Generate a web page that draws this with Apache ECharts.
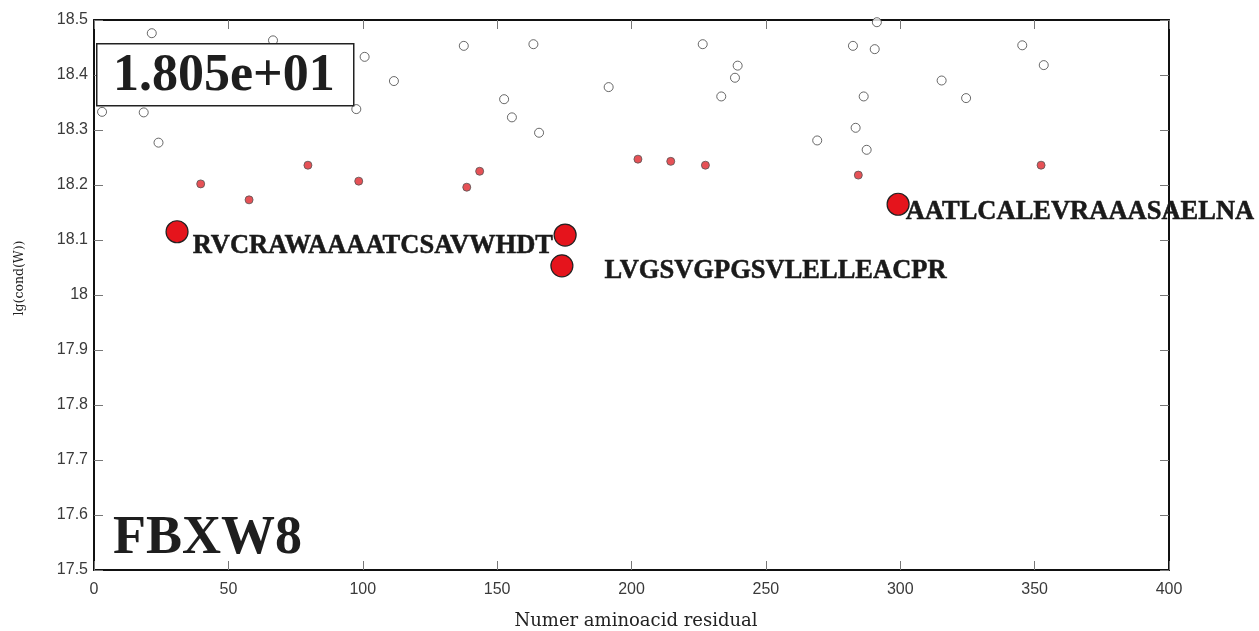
<!DOCTYPE html>
<html><head><meta charset="utf-8">
<script src="https://cdn.jsdelivr.net/npm/echarts@6/dist/echarts.min.js"></script>
<style>html,body{margin:0;padding:0;background:#fff}#c{width:1259px;height:631px}</style>
</head><body><div id="c"></div>
<script>
// Open circles (other residues)
const openX = [3, 21.5, 18.5, 24, 66.6, 97.6, 100.7, 111.6, 137.6, 163.5, 152.6, 155.5, 165.6, 191.5, 226.5, 239.5, 238.5, 233.4, 269.1, 291.3, 282.4, 290.5, 286.4, 283.4, 287.5, 315.4, 324.5, 345.4, 353.4];
const openY = [18.333, 18.476, 18.332, 18.277, 18.463, 18.338, 18.433, 18.389, 18.453, 18.456, 18.356, 18.323, 18.295, 18.378, 18.456, 18.417, 18.395, 18.361, 18.281, 18.496, 18.453, 18.447, 18.361, 18.304, 18.264, 18.390, 18.358, 18.454, 18.418];
// Small red points
const smallX = [39.7, 57.7, 79.6, 98.5, 138.7, 143.5, 202.4, 214.6, 227.5, 284.4, 352.4];
const smallY = [18.202, 18.173, 18.236, 18.207, 18.196, 18.225, 18.247, 18.243, 18.236, 18.218, 18.236];
// Large red points with peptide labels
const bigX = [30.9, 175.3, 174.1, 299.2];
const bigY = [18.115, 18.109, 18.053, 18.165];
const bigNames = ['RVCRAWAAAATCSAVWHDT', '', 'LVGSVGPGSVLELLEACPR', 'AATLCALEVRAAASAELNA'];
const xTicks = [0, 50, 100, 150, 200, 250, 300, 350, 400];
const yTicks = [17.5, 17.6, 17.7, 17.8, 17.9, 18, 18.1, 18.2, 18.3, 18.4, 18.5];
const condText = '1.805e+01';
const geneText = 'FBXW8';
const xName = 'Numer aminoacid residual';
const yName = 'lg(cond(W))';

const labelOffsets = [[0, 14], [0, 0], [27, 5], [-8, 8]];
const serif = '"Liberation Serif", "Times New Roman", serif';
const sans = '"Liberation Sans", Arial, sans-serif';

const chart = echarts.init(document.getElementById('c'));
const tickLabel = { color: '#3a3a3a', fontSize: 16, fontFamily: sans };
const axisLine = { show: true, onZero: false, lineStyle: { color: '#111', width: 2 } };
const axisTick = { show: true, inside: true, length: 9, lineStyle: { color: '#777', width: 1 } };

chart.setOption({
  animation: false,
  grid: { left: 94, right: 90, top: 20, bottom: 61, show: false },
  xAxis: [
    { type: 'value', min: 0, max: 400, interval: 50, axisLine, axisTick,
      axisLabel: Object.assign({ margin: 12, formatter: v => String(v) }, tickLabel), splitLine: { show: false } },
    { type: 'value', position: 'top', min: 0, max: 400, interval: 50, axisLine, axisTick,
      axisLabel: { show: false }, splitLine: { show: false } }
  ],
  yAxis: [
    { type: 'value', min: 17.5, max: 18.5, interval: 0.1, axisLine, axisTick,
      axisLabel: Object.assign({ margin: 6, formatter: v => String(+v.toFixed(1)) }, tickLabel), splitLine: { show: false } },
    { type: 'value', position: 'right', min: 17.5, max: 18.5, interval: 0.1, axisLine, axisTick,
      axisLabel: { show: false }, splitLine: { show: false } }
  ],
  series: [
    { type: 'scatter', symbol: 'circle', symbolSize: 9,
      itemStyle: { color: '#fff', borderColor: '#444', borderWidth: 1 },
      data: openX.map((x, i) => [x, openY[i]]) },
    { type: 'scatter', symbol: 'circle', symbolSize: 8,
      itemStyle: { color: '#e0252c', borderColor: '#555', borderWidth: 1 },
      data: smallX.map((x, i) => [x, smallY[i]]) },
    { type: 'scatter', symbol: 'circle', symbolSize: 22,
      itemStyle: { color: '#e5141c', borderColor: '#222', borderWidth: 1.2, opacity: 1 },
      data: bigX.map((x, i) => ({
        value: [x, bigY[i]],
        label: { show: bigNames[i] !== '', formatter: bigNames[i], position: 'right', distance: 4,
          offset: labelOffsets[i], color: '#1a1a1a', opacity: 1, fontSize: 26.5, fontWeight: 'bold', fontFamily: serif,
          textBorderColor: '#1a1a1a', textBorderWidth: 0.5 }
      })) }
  ],
  graphic: [
    { type: 'rect', left: 96, top: 43, shape: { width: 257, height: 62 },
      style: { fill: '#fff', stroke: '#222', lineWidth: 1.5 }, z: 10 },
    { type: 'text', left: 113, top: 51, z: 11,
      style: { text: condText, font: 'bold 52px ' + serif, fill: '#1e1e1e' } },
    { type: 'text', left: 113, top: 512, z: 11,
      style: { text: geneText, font: 'bold 54px ' + serif, fill: '#1e1e1e' } },
    { type: 'text', x: 636, y: 621, z: 11,
      style: { text: xName, font: '18px "DejaVu Serif", serif', fill: '#222', align: 'center', verticalAlign: 'middle' } },
    { type: 'text', x: 20, y: 278, rotation: Math.PI / 2, z: 11,
      style: { text: yName, font: '12.5px "DejaVu Serif", serif', fill: '#222', align: 'center', verticalAlign: 'middle' } }
  ]
});
</script></body></html>
